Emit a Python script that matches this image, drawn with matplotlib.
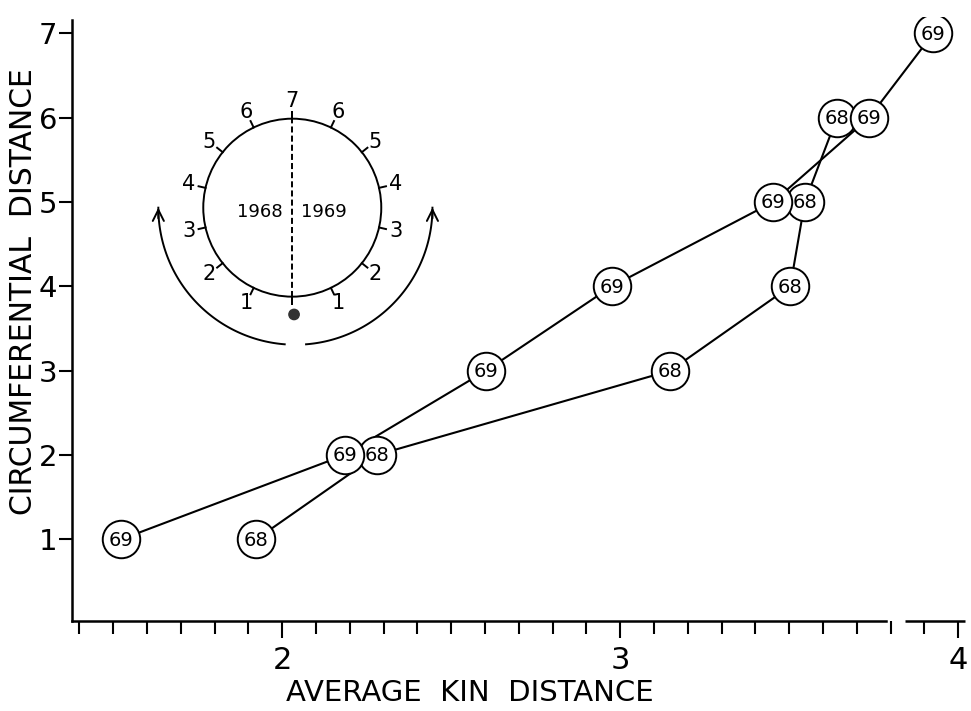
import numpy as np
import matplotlib
matplotlib.use("Agg")
import matplotlib.pyplot as plt
from matplotlib.patches import Circle
from matplotlib.transforms import blended_transform_factory

# circumferential distance (y) against average kin distance (x), one line per year
circ_68 = [1, 2, 3, 4, 5, 6]
kin_68 = [1.923, 2.280, 3.148, 3.503, 3.546, 3.641]
circ_69 = [1, 2, 3, 4, 5, 6, 7]
kin_69 = [1.524, 2.185, 2.603, 2.975, 3.452, 3.736, 3.926]
tag_68 = "68"
tag_69 = "69"

x_major = [2, 3, 4]
x_minor = [round(v / 10, 1) for v in range(14, 40)]
y_ticks = [1, 2, 3, 4, 5, 6, 7]

# inset sketch: positions 1..7 round the trunk, split by year
ring_pos = [1, 2, 3, 4, 5, 6]
ring_top = 7
year_left = "1968"
year_right = "1969"

fig = plt.figure(figsize=(9.71, 7.11), dpi=100)
ax = fig.add_axes([0.07384, 0.127, 0.9235, 0.8497])

for kin, circ, tag in [(kin_68, circ_68, tag_68), (kin_69, circ_69, tag_69)]:
    ax.plot(kin, circ, color="k", lw=1.5, zorder=2)
    ax.plot(kin, circ, "o", ms=27, mfc="white", mec="k", mew=1.4, zorder=3)
    for x, y in zip(kin, circ):
        ax.text(x, y - 0.01, tag, ha="center", va="center", fontsize=14, zorder=4)

ax.set_xlim(1.377, 4.03)
ax.set_ylim(0.034, 7.2)
ax.spines["top"].set_visible(False)
ax.spines["right"].set_visible(False)
ax.spines["left"].set_linewidth(1.8)
ax.spines["bottom"].set_linewidth(1.8)
ax.spines["left"].set_bounds(0.034, 7.16)
ax.spines["bottom"].set_bounds(1.377, 3.787)
# broken x axis: short piece after the gap
trans = blended_transform_factory(ax.transData, ax.transAxes)
ax.plot([3.842, 4.02], [0, 0], color="k", lw=1.8, transform=trans,
        clip_on=False, solid_capstyle="butt")

ax.set_xticks(x_major)
ax.set_xticklabels([str(v) for v in x_major])
ax.set_xticks(x_minor, minor=True)
ax.set_yticks(y_ticks)
ax.tick_params(axis="x", which="major", length=12, width=1.5, labelsize=22, pad=6)
ax.tick_params(axis="x", which="minor", length=9, width=1.5)
ax.tick_params(axis="y", length=9.5, width=1.5, labelsize=21, pad=1)

ax.set_xlabel("AVERAGE  KIN  DISTANCE", fontsize=21)
ax.xaxis.set_label_coords(0.444, -0.097)
ax.set_ylabel("CIRCUMFERENTIAL  DISTANCE", fontsize=21.5)
ax.yaxis.set_label_coords(-0.038, 0.544)

# inset diagram
iax = fig.add_axes([0.1406, 0.5014, 0.3208, 0.388])
iax.set_xlim(-1.75, 1.75)
iax.set_ylim(-1.65, 1.45)
iax.axis("off")

iax.add_patch(Circle((0, 0), 1, fill=False, lw=1.4, color="k"))
iax.plot([0, 0], [-1, 1], color="k", lw=1.4, dashes=(3.1, 1.6))

step = np.pi / ring_top
for k in [0] + ring_pos + [ring_top]:
    a = k * step
    for side in (-1, 1):
        s, c = side * np.sin(a), -np.cos(a)
        iax.plot([s, 1.08 * s], [c, 1.08 * c], color="k", lw=1.4)
for k in ring_pos:
    a = k * step
    for side in (-1, 1):
        iax.text(1.19 * side * np.sin(a), -1.19 * np.cos(a), str(k),
                 ha="center", va="center", fontsize=15)
iax.text(0, 1.2, str(ring_top), ha="center", va="center", fontsize=15)

iax.text(-0.36, -0.045, year_left, ha="center", va="center", fontsize=13)
iax.text(0.35, -0.045, year_right, ha="center", va="center", fontsize=13)

iax.add_patch(Circle((0.02, -1.2), 0.058, color="#333333"))

R = 1.54
cx = 0.035
phi = np.linspace(0.078, np.pi / 2, 120)
for side in (-1, 1):
    iax.plot(cx + side * R * np.sin(phi), -R * np.cos(phi), color="k", lw=1.4)
    iax.annotate("", xy=(cx + side * R, 0.0), xytext=(cx + side * R, -0.12),
                 arrowprops=dict(arrowstyle="->", lw=1.4, mutation_scale=20,
                                 shrinkA=0, shrinkB=0, color="k"))

fig.savefig("out.png", dpi=100, facecolor="white")
